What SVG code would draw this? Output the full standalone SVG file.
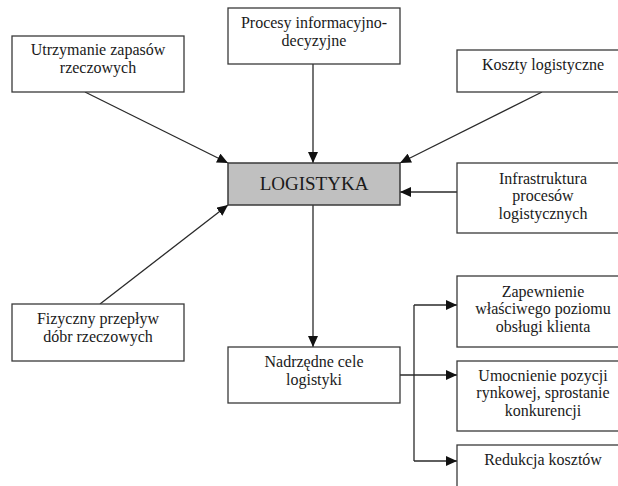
<svg xmlns="http://www.w3.org/2000/svg" width="618" height="486" viewBox="0 0 618 486">
  <style>
    .box { fill: #ffffff; stroke: #3a3a3a; stroke-width: 1.3; }
    .main { fill: #c0c0c0; stroke: #3a3a3a; stroke-width: 1.5; }
    .lbl { font-family: "Liberation Serif", "DejaVu Serif", serif; font-size: 16px; fill: #1a1a1a; text-anchor: middle; }
    .big { font-size: 19px; }
    .conn { fill: none; stroke: #2a2a2a; stroke-width: 1.3; }
  </style>
  <defs>
    <marker id="arr" markerUnits="userSpaceOnUse" markerWidth="12" markerHeight="10" refX="11" refY="5" orient="auto">
      <path d="M0,0 L11,5 L0,10 Z" fill="#111"/>
    </marker>
  </defs>
  <rect width="618" height="486" fill="#ffffff"/>

  <g id="connectors">
    <line class="conn" x1="85" y1="92" x2="228" y2="163" marker-end="url(#arr)"/>
    <line class="conn" x1="313" y1="64" x2="313" y2="163" marker-end="url(#arr)"/>
    <line class="conn" x1="542" y1="92" x2="400" y2="163" marker-end="url(#arr)"/>
    <line class="conn" x1="457" y1="192" x2="400" y2="192" marker-end="url(#arr)"/>
    <line class="conn" x1="100" y1="304" x2="228" y2="205" marker-end="url(#arr)"/>
    <line class="conn" x1="313" y1="205" x2="313" y2="347" marker-end="url(#arr)"/>
    <line class="conn" x1="400" y1="375" x2="457" y2="375" marker-end="url(#arr)"/>
    <line class="conn" x1="414" y1="305" x2="414" y2="461"/>
    <line class="conn" x1="414" y1="305" x2="457" y2="305" marker-end="url(#arr)"/>
    <line class="conn" x1="414" y1="461" x2="457" y2="461" marker-end="url(#arr)"/>
  </g>

  <g id="utrzymanie">
    <rect class="box" x="12" y="36" width="172" height="56"/>
    <text class="lbl" x="98" y="55">Utrzymanie zapasów</text>
    <text class="lbl" x="98" y="73">rzeczowych</text>
  </g>

  <g id="procesy">
    <rect class="box" x="228" y="8" width="172" height="56"/>
    <text class="lbl" x="314" y="28">Procesy informacyjno-</text>
    <text class="lbl" x="314" y="46">decyzyjne</text>
  </g>

  <g id="koszty">
    <rect class="box" x="457" y="50" width="180" height="42"/>
    <text class="lbl" x="543" y="70">Koszty logistyczne</text>
  </g>

  <g id="logistyka">
    <rect class="main" x="228" y="163" width="172" height="42"/>
    <text class="lbl big" x="314" y="190">LOGISTYKA</text>
  </g>

  <g id="infrastruktura">
    <rect class="box" x="457" y="163" width="180" height="70"/>
    <text class="lbl" x="543" y="184">Infrastruktura</text>
    <text class="lbl" x="543" y="201">procesów</text>
    <text class="lbl" x="543" y="219">logistycznych</text>
  </g>

  <g id="fizyczny">
    <rect class="box" x="12" y="304" width="172" height="57"/>
    <text class="lbl" x="98" y="324">Fizyczny przepływ</text>
    <text class="lbl" x="98" y="342">dóbr rzeczowych</text>
  </g>

  <g id="nadrzedne">
    <rect class="box" x="228" y="347" width="172" height="56"/>
    <text class="lbl" x="314" y="367">Nadrzędne cele</text>
    <text class="lbl" x="314" y="385">logistyki</text>
  </g>

  <g id="zapewnienie">
    <rect class="box" x="457" y="276" width="180" height="71"/>
    <text class="lbl" x="543" y="297">Zapewnienie</text>
    <text class="lbl" x="543" y="314">właściwego poziomu</text>
    <text class="lbl" x="543" y="332">obsługi klienta</text>
  </g>

  <g id="umocnienie">
    <rect class="box" x="457" y="361" width="180" height="70"/>
    <text class="lbl" x="543" y="381">Umocnienie pozycji</text>
    <text class="lbl" x="543" y="398">rynkowej, sprostanie</text>
    <text class="lbl" x="543" y="416">konkurencji</text>
  </g>

  <g id="redukcja">
    <rect class="box" x="457" y="445" width="180" height="60"/>
    <text class="lbl" x="543" y="465">Redukcja kosztów</text>
  </g>
</svg>
